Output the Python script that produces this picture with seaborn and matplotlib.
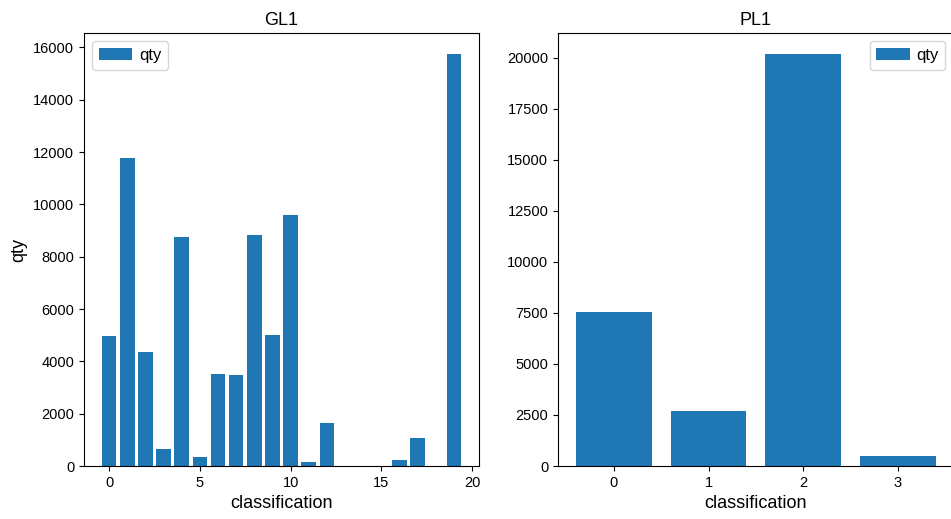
import numpy as np
import pandas as pd
import matplotlib
matplotlib.use("Agg")
import matplotlib.pyplot as plt
import seaborn as sns

# GL1 quantities per classification (13, 14, 15 and 18 are absent)
classes_gl = [0, 1, 2, 3, 4, 5, 6, 7, 8, 9, 10, 11, 12, 16, 17, 19]
qty_gl = [4980, 11770, 4375, 650, 8755, 360, 3510, 3485, 8830, 5005,
          9585, 150, 1635, 215, 1085, 15760]
gl_ticks = [0, 5, 10, 15, 20]

# PL1 quantities per classification
classes_pl = [0, 1, 2, 3]
qty_pl = [7530, 2670, 20195, 490]

bar_color = "#1f77b4"

plt.rcParams["font.family"] = ["Liberation Sans", "DejaVu Sans"]


def main():
    df_gl = pd.DataFrame({"classification": classes_gl, "qty": qty_gl})
    df_pl = pd.DataFrame({"classification": classes_pl, "qty": qty_pl})

    fig = plt.figure(figsize=(9.51, 5.19), dpi=100)
    ax1 = fig.add_axes([0.0883, 0.1021, 0.4154, 0.8343])
    ax2 = fig.add_axes([0.5868, 0.1021, 0.4160, 0.8343])

    # left panel: numeric x positions
    sns.barplot(data=df_gl, x="classification", y="qty", native_scale=True,
                color=bar_color, saturation=1, label="qty", ax=ax1)
    ax1.set_xticks(gl_ticks)
    ax1.set_title("GL1", fontsize=13)
    ax1.set_xlabel("classification", fontsize=13)
    ax1.set_ylabel("qty", fontsize=13)
    ax1.legend(loc="upper left", fontsize=12, handletextpad=0.4)

    # right panel
    sns.barplot(data=df_pl, x="classification", y="qty", native_scale=True,
                color=bar_color, saturation=1, label="qty", ax=ax2)
    ax2.set_xticks(classes_pl)
    ax2.set_title("PL1", fontsize=13)
    ax2.set_xlabel("classification", fontsize=13)
    ax2.set_ylabel("")
    ax2.legend(loc="upper right", fontsize=12, handletextpad=0.4)

    for ax in (ax1, ax2):
        ax.margins(x=0.05, y=0.05)
        ax.set_ylim(bottom=0)
        ax.tick_params(labelsize=10.5)

    fig.savefig("out.png", dpi=100)


if __name__ == "__main__":
    main()
